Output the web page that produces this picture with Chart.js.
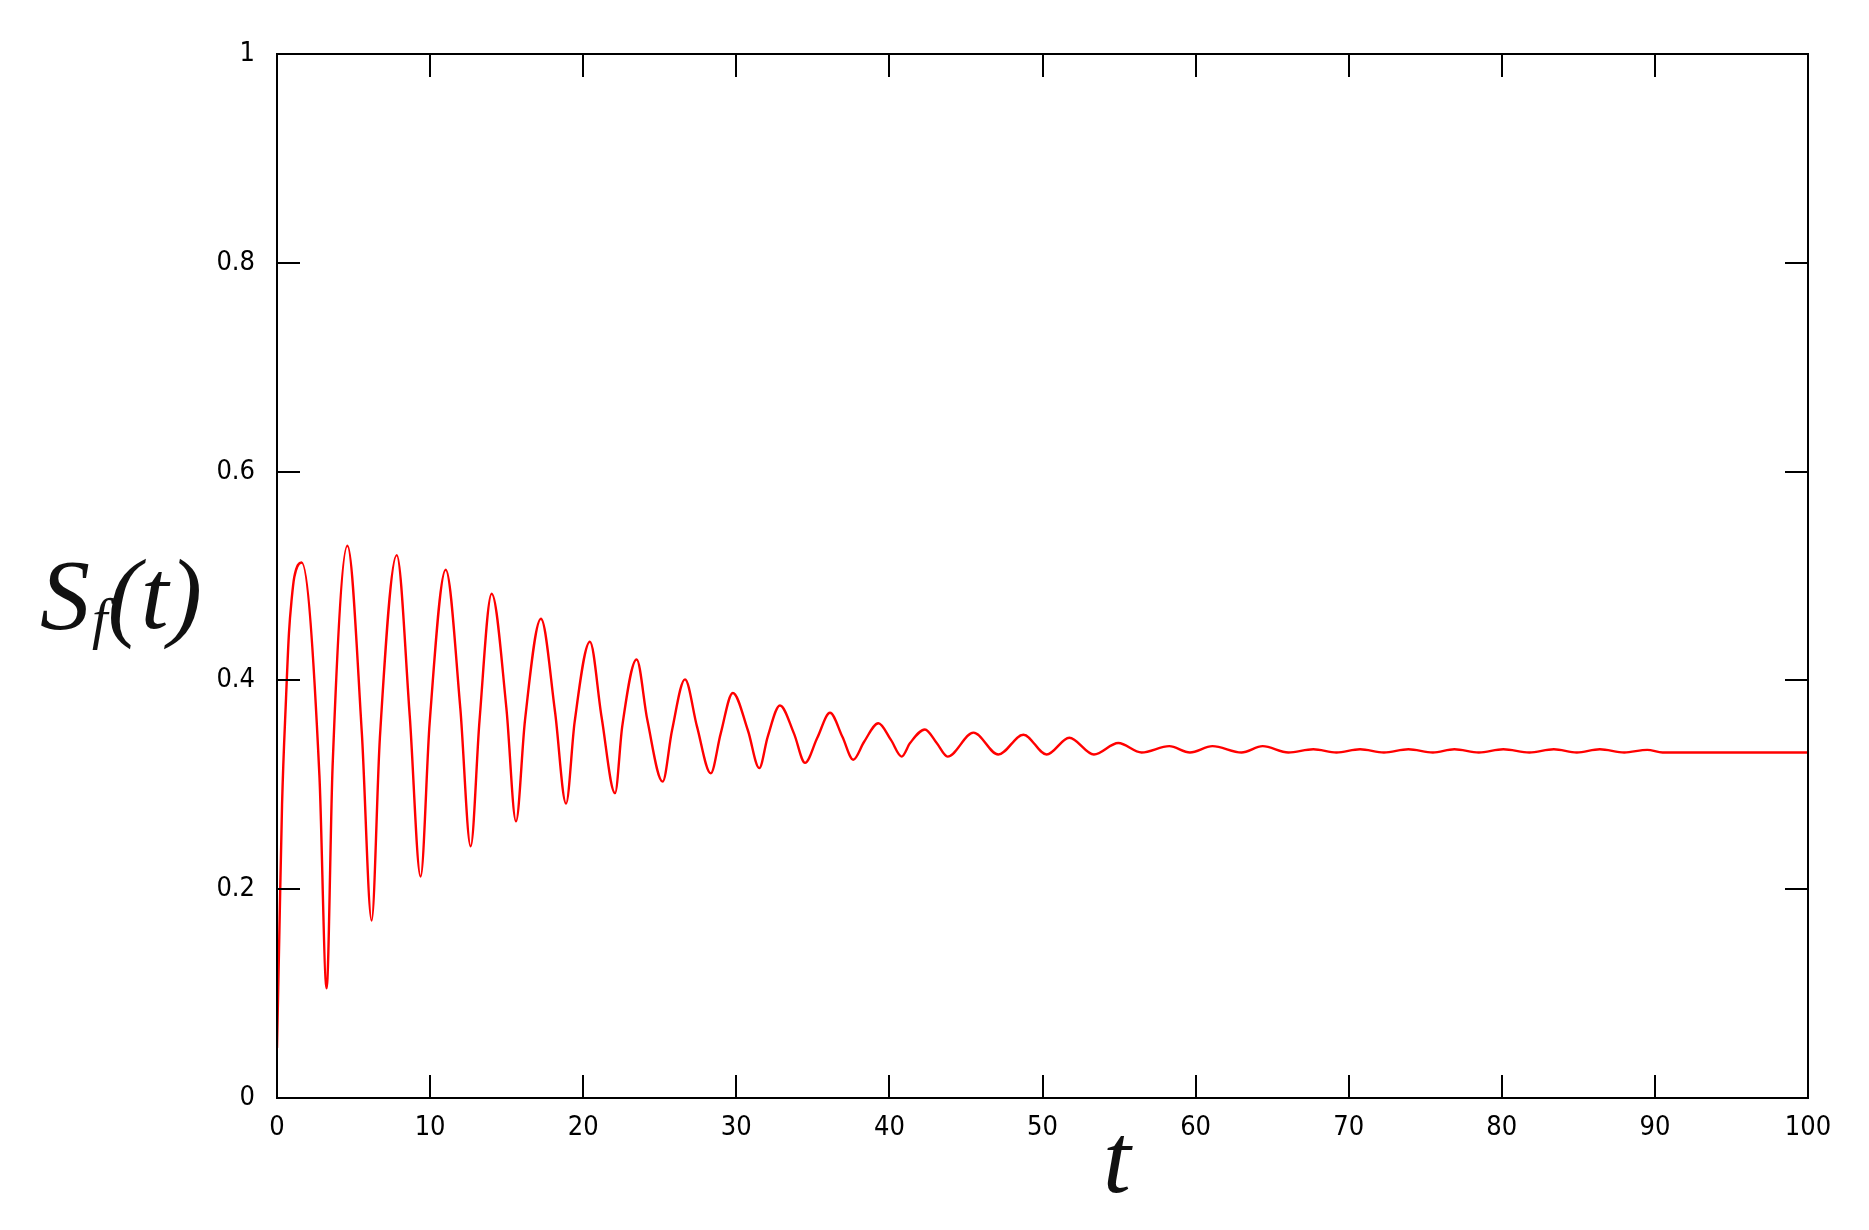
<!DOCTYPE html>
<html lang="en">
<head>
    <meta charset="UTF-8">
    <title>S_f(t)</title>
    <script src="https://cdn.jsdelivr.net/npm/chart.js"></script>
    <style>
        html, body { margin: 0; padding: 0; background: white; }
        #chart-container { width: 1869px; height: 1230px; }
    </style>
</head>
<body>
    <div id="chart-container">
        <canvas id="sfChart" width="1869" height="1230"></canvas>
    </div>

    <script>
        // points: extrema and half-way crossings
        const tValues = [
            0, 0.15, 0.33, 0.59, 0.78, 0.96, 1.13, 1.61,
            2.77, 3.24, 3.63, 4.60, 5.54, 6.18, 6.72, 7.82,
            8.67, 9.38, 9.97, 11.02, 11.97, 12.65, 13.23, 14.02,
            14.98, 15.61, 16.20, 17.24, 18.16, 18.88, 19.44, 20.44,
            21.20, 22.08, 22.55, 23.49, 24.19, 25.19, 25.80, 26.65,
            27.43, 28.33, 28.98, 29.77, 30.76, 31.50, 32.05, 32.85,
            33.77, 34.49, 35.29, 36.12, 36.93, 37.64, 38.34, 39.28,
            40.10, 40.80, 41.35, 42.32, 43.09, 43.80,
            45.49, 47.11, 48.75, 50.27, 51.75, 53.36, 54.95, 56.47,
            58.28, 59.63, 61.10, 63.00, 64.38, 66.06, 67.69, 69.20,
            70.74, 72.30, 73.90, 75.50, 76.90, 78.50, 80.10, 81.80,
            83.40, 84.90, 86.40, 88.00, 89.50, 90.50, 100
        ];
        const sValues = [
            0.048, 0.155, 0.281, 0.383, 0.445, 0.478, 0.499, 0.513,
            0.309, 0.105, 0.317, 0.529, 0.350, 0.170, 0.345, 0.520,
            0.366, 0.212, 0.359, 0.506, 0.374, 0.241, 0.362, 0.483,
            0.374, 0.265, 0.362, 0.459, 0.370, 0.282, 0.360, 0.437,
            0.365, 0.292, 0.356, 0.420, 0.362, 0.303, 0.352, 0.401,
            0.356, 0.311, 0.349, 0.388, 0.352, 0.316, 0.346, 0.376,
            0.349, 0.321, 0.345, 0.369, 0.346, 0.324, 0.341, 0.359,
            0.343, 0.327, 0.340, 0.353, 0.340, 0.327,
            0.350, 0.329, 0.348, 0.329, 0.345, 0.329, 0.340, 0.331,
            0.337, 0.331, 0.337, 0.331, 0.337, 0.331, 0.334, 0.331,
            0.334, 0.331, 0.334, 0.331, 0.334, 0.331, 0.334, 0.331,
            0.334, 0.331, 0.334, 0.331, 0.3335, 0.331, 0.331
        ];
        const xTicks = [0, 10, 20, 30, 40, 50, 60, 70, 80, 90, 100];
        const yTicks = [0, 0.2, 0.4, 0.6, 0.8, 1];
        const yTickLabels = ["0", "0.2", "0.4", "0.6", "0.8", "1"];

        const tickFont = { family: "'DejaVu Sans Condensed', 'DejaVu Sans', sans-serif", size: 27 };

        // box, inward ticks on all four sides, and the two axis titles
        const framePlugin = {
            id: 'frame',
            afterDraw(chart) {
                const { ctx, chartArea: a, scales: { x, y } } = chart;
                const len = 23;
                ctx.save();
                ctx.strokeStyle = '#000';
                ctx.lineWidth = 2;
                ctx.strokeRect(a.left, a.top, a.right - a.left, a.bottom - a.top);
                ctx.beginPath();
                xTicks.forEach(v => {
                    const px = Math.round(x.getPixelForValue(v));
                    ctx.moveTo(px, a.bottom); ctx.lineTo(px, a.bottom - len);
                    ctx.moveTo(px, a.top); ctx.lineTo(px, a.top + len);
                });
                yTicks.forEach(v => {
                    const py = Math.round(y.getPixelForValue(v));
                    ctx.moveTo(a.left, py); ctx.lineTo(a.left + len, py);
                    ctx.moveTo(a.right, py); ctx.lineTo(a.right - len, py);
                });
                ctx.stroke();

                ctx.fillStyle = '#111';
                ctx.textBaseline = 'alphabetic';
                ctx.textAlign = 'left';
                const big = "italic 100px 'Liberation Serif', serif";
                const small = "italic 56px 'Liberation Serif', serif";
                let cx = 40;
                ctx.font = big;
                ctx.fillText('S', cx, 628);
                cx += ctx.measureText('S').width + 2;
                ctx.font = small;
                ctx.fillText('f', cx, 638);
                cx += ctx.measureText('f').width;
                ctx.font = big;
                ctx.fillText('(t)', cx, 628);

                ctx.textAlign = 'center';
                ctx.fillText('t', 1117, 1192);
                ctx.restore();
            }
        };

        const ctx = document.getElementById("sfChart").getContext("2d");
        const sfChart = new Chart(ctx, {
            type: "line",
            data: {
                datasets: [{
                    data: tValues.map((t, i) => ({ x: t, y: sValues[i] })),
                    borderColor: "#ff0000",
                    borderWidth: 2.4,
                    pointRadius: 0,
                    fill: false,
                    cubicInterpolationMode: "monotone"
                }]
            },
            options: {
                responsive: false,
                animation: false,
                devicePixelRatio: 1,
                layout: { padding: { top: 54, right: 61, left: 0, bottom: 0 } },
                plugins: {
                    legend: { display: false },
                    tooltip: { enabled: false }
                },
                scales: {
                    x: {
                        type: "linear",
                        min: 0,
                        max: 100,
                        grid: { display: false },
                        border: { display: false },
                        ticks: {
                            stepSize: 10,
                            autoSkip: false,
                            maxRotation: 0,
                            padding: 6,
                            color: "#000",
                            font: tickFont
                        },
                        afterFit(scale) { scale.height = 132; }
                    },
                    y: {
                        min: 0,
                        max: 1,
                        grid: { display: false },
                        border: { display: false },
                        ticks: {
                            stepSize: 0.2,
                            padding: 14,
                            color: "#000",
                            font: tickFont,
                            callback: (v) => {
                                const i = yTicks.findIndex(t => Math.abs(t - v) < 1e-6);
                                return i >= 0 ? yTickLabels[i] : "";
                            }
                        },
                        afterFit(scale) { scale.width = 277; }
                    }
                }
            },
            plugins: [framePlugin]
        });
    </script>
</body>
</html>
